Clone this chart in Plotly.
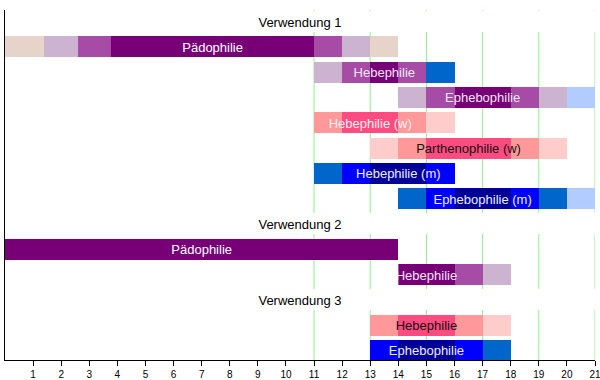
import plotly.graph_objects as go

# ---- data ----
ROW_LABELS = ["Verwendung 1", "Pädophilie", "Hebephilie", "Ephebophilie",
              "Hebephilie (w)", "Parthenophilie (w)", "Hebephilie (m)", "Ephebophilie (m)",
              "Verwendung 2", "Pädophilie", "Hebephilie",
              "Verwendung 3", "Hebephilie", "Ephebophilie"]
IS_TITLE = [True, False, False, False, False, False, False, False,
            True, False, False, True, False, False]

# segment boundaries (ages) per row
SEG_EDGES = [
    [0, 21],
    [0, 1.38, 2.6, 3.77, 11, 12, 13, 14],
    [11, 12, 13, 14, 15, 16],
    [14, 15, 16, 18, 19, 20, 21],
    [11, 12, 14, 15, 16],
    [13, 14, 15, 18, 19, 20],
    [11, 12, 13, 15, 16],
    [14, 15, 16, 18, 19, 20, 21],
    [0, 21],
    [0, 14],
    [14, 16, 17, 18],
    [0, 21],
    [13, 14, 16, 17, 18],
    [13, 14, 16, 17, 18],
]
SEG_COLORS = [
    ["white"],
    ["beige", "lav", "mpur", "dpur", "mpur", "lav", "beige"],
    ["lav", "mpur", "dpur", "mpur", "mblue"],
    ["lav", "mpur", "dpur", "mpur", "lav", "lblue"],
    ["salmon", "pink", "salmon", "lpink"],
    ["lpink", "salmon", "pink", "salmon", "lpink"],
    ["mblue", "blue", "dblue", "blue"],
    ["mblue", "blue", "dblue", "blue", "mblue", "lblue"],
    ["white"],
    ["dpur"],
    ["dpur", "mpur", "lav"],
    ["white"],
    ["salmon", "pink", "salmon", "lpink"],
    ["blue", "dblue", "blue", "mblue"],
]
LABEL_X = [10.5, 7.39, 13.5, 17.0, 13.0, 16.5, 14.0, 17.0, 10.5, 7.0, 15.0, 10.5, 15.0, 15.0]
LABEL_COLOR = ["#000000", "#ffffff", "#f2e6f2", "#f2e6f2", "#fff0f0", "#111111", "#eeeeff",
               "#eeeeff", "#000000", "#ffffff", "#f2e6f2", "#000000", "#111111", "#eeeeff"]
LABEL_CLIPPED = [False] * 10 + [True] + [False] * 3

TICKS = list(range(1, 22))
GRID_X = [11, 13, 15, 17, 19, 21]

PALETTE = {
    "white": "#ffffff", "beige": "#e6d4ca", "lav": "#ccb3cf", "mpur": "#a64ca6",
    "dpur": "#770077", "salmon": "#ff9999", "pink": "#ff4c80", "lpink": "#ffcccc",
    "mblue": "#0066cc", "blue": "#0000ff", "dblue": "#000099", "lblue": "#b3ccff",
}

FONT = "Liberation Sans, Arial, sans-serif"
BAR_W = 0.83
LABEL_DY = 0.07

# ---- build ----
ys, bases, lens, cols = [], [], [], []
for i, (edges, cl) in enumerate(zip(SEG_EDGES, SEG_COLORS)):
    for a, b, c in zip(edges[:-1], edges[1:], cl):
        ys.append(i)
        bases.append(a)
        lens.append(b - a)
        cols.append(PALETTE[c])

fig = go.Figure()
fig.add_trace(go.Bar(
    orientation="h", y=ys, x=lens, base=bases, width=BAR_W,
    marker=dict(color=cols, line=dict(width=0)), hoverinfo="skip", showlegend=False,
))
fig.add_trace(go.Scatter(
    x=LABEL_X, y=[i + LABEL_DY for i in range(len(ROW_LABELS))], text=ROW_LABELS,
    mode="text", textposition="middle center",
    textfont=dict(family=FONT, size=13, color=LABEL_COLOR),
    hoverinfo="skip", showlegend=False,
))

for gx in GRID_X:
    fig.add_vline(x=gx, line=dict(color="#90ee90", width=1), layer="below")

# clipped label: text hidden left of the bar start
for i, clip in enumerate(LABEL_CLIPPED):
    if clip:
        s = SEG_EDGES[i][0]
        fig.add_shape(type="rect", xref="x", yref="y", x0=s - 0.6, x1=s,
                      y0=i - BAR_W / 2, y1=i + BAR_W / 2,
                      fillcolor="white", line=dict(width=0), layer="above")

fig.update_layout(
    width=600, height=380,
    margin=dict(l=5, r=5, t=10, b=20),
    paper_bgcolor="white", plot_bgcolor="white",
    barmode="overlay", bargap=0,
    font=dict(family=FONT, size=10, color="black"),
    showlegend=False,
)
fig.update_xaxes(
    range=[0, 21], tickvals=TICKS, ticktext=[str(t) for t in TICKS],
    showgrid=False, zeroline=False, showline=True, linecolor="black", linewidth=1,
    ticks="outside", ticklen=5, tickcolor="black", tickwidth=1,
    tickfont=dict(family=FONT, size=10, color="black"), automargin=False,
    ticklabeloverflow="allow",
)
fig.update_yaxes(
    range=[13.38, -0.455], showticklabels=False, showgrid=False, zeroline=False,
    showline=True, linecolor="black", linewidth=1, ticks="", automargin=False,
)

fig.write_html(
    "out.html",
    config={"displayModeBar": False, "staticPlot": True},
    post_script="document.body.style.margin='0';document.body.style.overflow='hidden';",
)
